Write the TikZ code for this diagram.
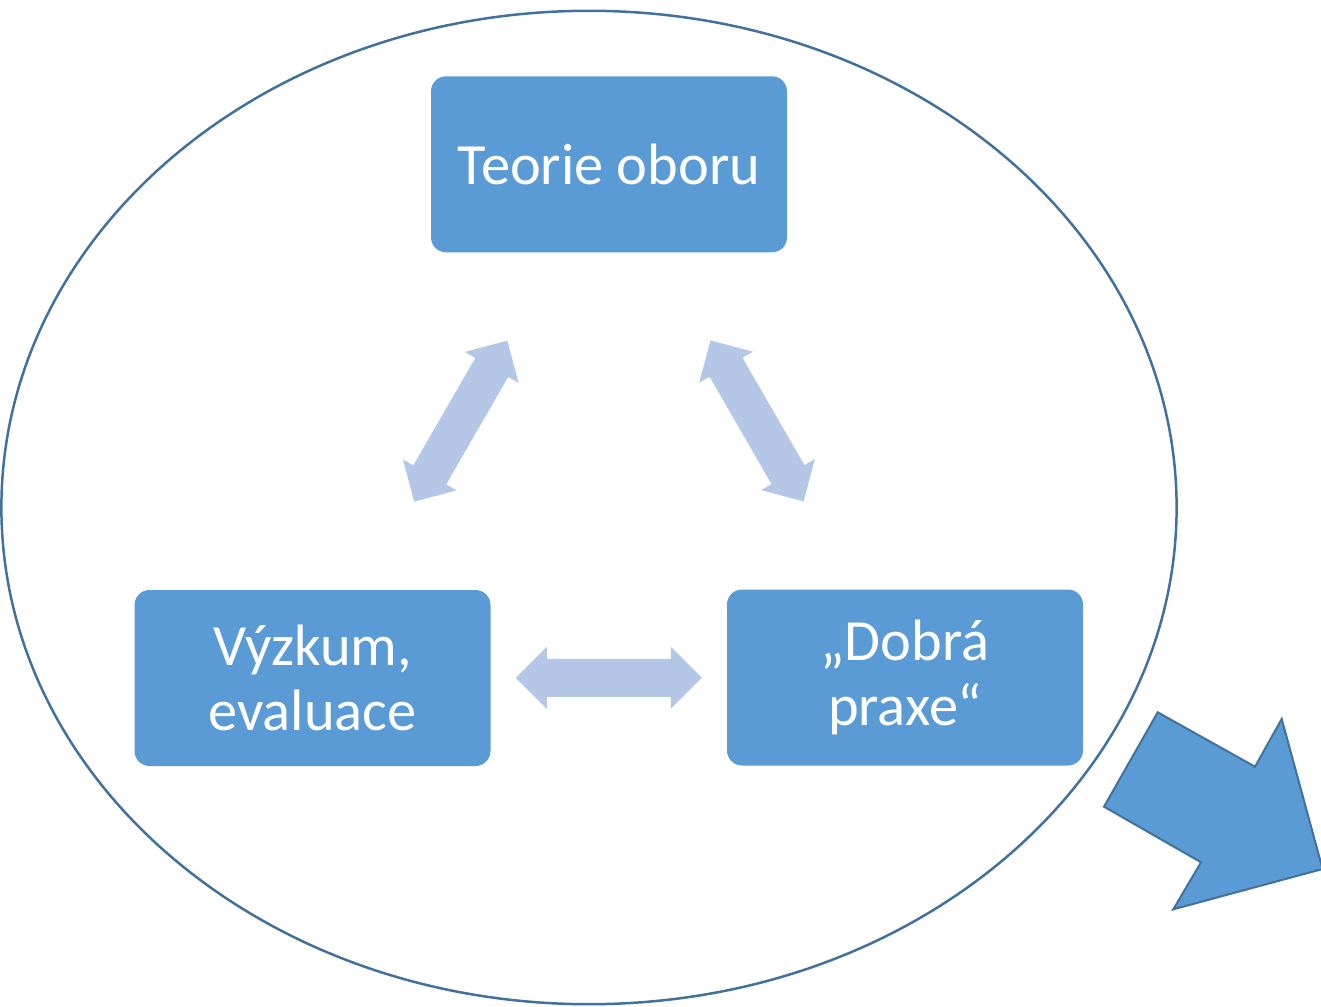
\documentclass[tikz,border=0pt]{standalone}
\usepackage{fontspec}
\setmainfont{Carlito}
\usetikzlibrary{calc}

\definecolor{boxblue}{HTML}{5B9BD5}
\definecolor{edgeblue}{HTML}{41719C}
\definecolor{paleblue}{HTML}{B4C7E7}

\tikzset{
    topic/.style={rounded corners=7.5pt, fill=boxblue, text=white,
        minimum width=178pt, minimum height=88pt, align=center,
        font=\fontsize{29.2}{32.5}\selectfont},
    pics/twoway/.style={code={%
        \fill[paleblue] (-93,0) -- (-62,31) -- (-62,19) -- (62,19) -- (62,31)
            -- (93,0) -- (62,-31) -- (62,-19) -- (-62,-19) -- (-62,-31) -- cycle;}}
}

\begin{document}
\begin{tikzpicture}[x=0.5pt,y=-0.5pt]
    \useasboundingbox (0,0) rectangle (1321,1006);

    % outer ellipse
    \draw [edgeblue, line width=1.25pt] (589,507.5) ellipse [x radius=587.6, y radius=496.7];

    \node [topic] (teorie) at (609,164.3) {Teorie oboru};
    \node [topic] (vyzkum) at (312.5,678) {Výzkum,\\evaluace};
    \node [topic] (praxe)  at (905,677.5) {„Dobrá\\praxe“};

    % arrows between the boxes
    \pic [rotate=60]  at ($(vyzkum)!0.5!(teorie)$) {twoway};
    \pic [rotate=120] at ($(praxe)!0.5!(teorie)$)  {twoway};
    \pic              at ($(vyzkum)!0.5!(praxe)$)  {twoway};

    % big arrow out of the ellipse
    \draw [edgeblue, fill=boxblue, line width=1pt]
        (1157.7,712.3) -- (1255,766.7) -- (1281.7,719) -- (1322.6,869)
        -- (1173.3,909.3) -- (1201,862.3) -- (1104,806.7) -- cycle;
\end{tikzpicture}
\end{document}
